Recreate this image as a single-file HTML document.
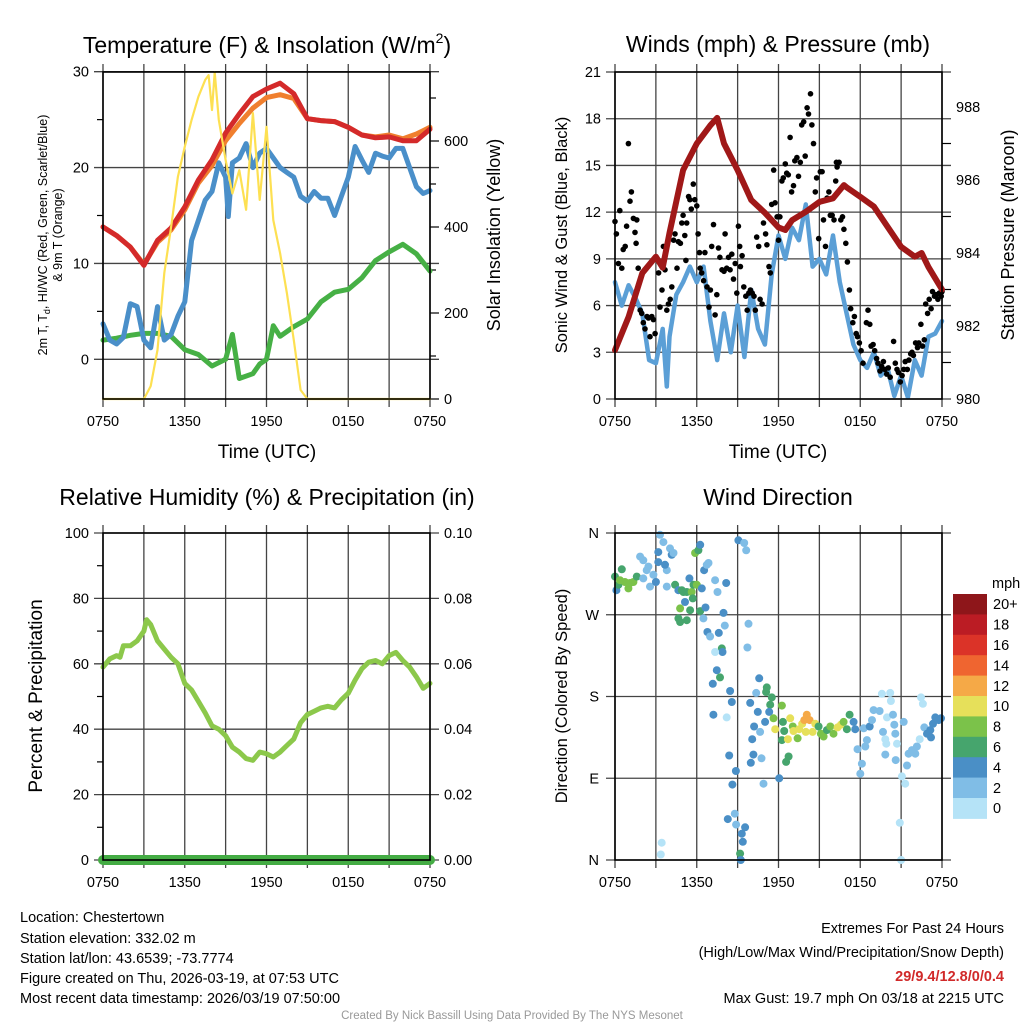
<!DOCTYPE html>
<html><head><meta charset="utf-8"><style>
html,body{margin:0;padding:0;background:#fff;}
svg{display:block;font-family:"Liberation Sans",Arial,sans-serif;}
</style></head><body>
<svg id="fig" width="1024" height="1024" viewBox="0 0 1024 1024" xmlns="http://www.w3.org/2000/svg">
<rect width="1024" height="1024" fill="#fff"/>
<g id="p1"></g>
<g id="p2"></g>
<g id="p3"></g>
<g id="p4"></g>
<g font-size="23" text-anchor="middle" fill="#000">
<text x="267" y="53">Temperature (F) &amp; Insolation (W/m<tspan font-size="14" dy="-10">2</tspan><tspan dy="10">)</tspan></text>
<text x="778" y="52">Winds (mph) &amp; Pressure (mb)</text>
<text x="267" y="505">Relative Humidity (%) &amp; Precipitation (in)</text>
<text x="778" y="505">Wind Direction</text>
</g>
<g fill="#000" text-anchor="middle">
<text x="267" y="458" font-size="19">Time (UTC)</text>
<text x="778" y="458" font-size="19">Time (UTC)</text>
<text font-size="12.5" transform="translate(47,235) rotate(-90)">2m T, T<tspan font-size="9" dy="3">d</tspan><tspan dy="-3">, HI/WC (Red, Green, Scarlet/Blue)</tspan></text>
<text font-size="12.5" transform="translate(62,235) rotate(-90)">&amp; 9m T (Orange)</text>
<text font-size="18" transform="translate(500,235) rotate(-90)">Solar Insolation (Yellow)</text>
<text font-size="16.5" transform="translate(567,235) rotate(-90)">Sonic Wind &amp; Gust (Blue, Black)</text>
<text font-size="18" transform="translate(1014,235) rotate(-90)">Station Pressure (Maroon)</text>
<text font-size="19" transform="translate(42,696) rotate(-90)">Percent &amp; Precipitation</text>
<text font-size="16.5" transform="translate(567,696) rotate(-90)">Direction (Colored By Speed)</text>
</g>
<g id="cbar"></g>
<g font-size="14.5" fill="#000">
<text x="20" y="922">Location: Chestertown</text>
<text x="20" y="943">Station elevation: 332.02 m</text>
<text x="20" y="963">Station lat/lon: 43.6539; -73.7774</text>
<text x="20" y="983">Figure created on Thu, 2026-03-19, at 07:53 UTC</text>
<text x="20" y="1003">Most recent data timestamp: 2026/03/19 07:50:00</text>
</g>
<g font-size="14.5" fill="#000" text-anchor="end">
<text x="1004" y="933">Extremes For Past 24 Hours</text>
<text x="1004" y="957">(High/Low/Max Wind/Precipitation/Snow Depth)</text>
<text x="1004" y="981" fill="#d12a2a" font-weight="bold">29/9.4/12.8/0/0.4</text>
<text x="1004" y="1003">Max Gust: 19.7 mph On 03/18 at 2215 UTC</text>
</g>
<text x="512" y="1019" font-size="11.5" fill="#999" text-anchor="middle">Created By Nick Bassill Using Data Provided By The NYS Mesonet</text>
</svg>
<script>
// ---------- DATA ----------
const timeTickLabels = ["0750","1350","1950","0150","0750"];
const tempTicks = [0,10,20,30];
const solarTicks = [0,200,400,600];
const windTicks = [0,3,6,9,12,15,18,21];
const pressTicks = [980,982,984,986,988];
const rhTicks = [0,20,40,60,80,100];
const precipTickLabels = ["0.00","0.02","0.04","0.06","0.08","0.10"];
const dirTickLabels = ["N","E","S","W","N"];
const speedLabels = ["20+","18","16","14","12","10","8","6","4","2","0"];
const speedColors = ["#8e161a","#bb1c24","#db3328","#ef6530","#f5a947","#e6e05a","#7bc24a","#46a56d","#4a8fc6","#80bde6","#b5e3f7"];

const tempHours = [0,1,2,3,4,5,6,7,8,9,10,11,12,13,14,15,16,17,18,19,20,21,22,23,24];
const tempRed = [13.8,12.9,11.7,9.8,12.4,13.7,15.9,18.7,20.8,23.6,25.6,27.4,28.2,28.8,27.7,25.1,24.9,24.8,24.2,23.4,23.1,23.2,22.8,22.8,24.0];
const tempOrange = [13.8,12.9,11.7,9.9,12.2,13.5,15.6,18.4,20.2,22.8,24.6,26.2,27.3,27.6,27.2,25.1,24.9,24.8,24.2,23.4,23.2,23.4,23.0,23.5,24.2];
const dewHours = [0,1,2,3,4,5,6,7,8,9,9.5,10,11,11.5,12,12.5,13,14,15,16,17,18,19,20,21,22,23,24];
const dewGreen = [2.0,2.2,2.5,2.7,2.7,2.4,1.0,0.5,-0.7,0,2.6,-2.0,-1.5,-0.5,0,3.5,2.4,3.4,4.2,6.0,7.0,7.3,8.5,10.3,11.2,12.0,11.0,9.2];
const wcHours = [0,0.5,1,1.5,2,2.5,3,3.5,4,4.5,5,5.5,6,6.5,7,7.5,8,8.5,9,9.2,9.5,10,10.5,11,11.5,12,12.5,13,13.5,14,14.5,15,15.5,16,16.5,17,17.5,18,18.5,19,19.5,20,20.5,21,21.5,22,22.5,23,23.5,24];
const wcBlue = [3.7,2.0,1.6,2.3,5.8,5.5,2.0,1.2,5.5,2.0,2.6,4.5,6.0,12.4,14.5,16.6,17.5,20.5,19.0,14.9,20.5,21.0,22.5,20.0,21.5,22.0,21.0,20.0,19.5,19.0,17.0,16.5,17.5,16.8,16.8,15.0,17.0,19.0,22.2,20.8,19.5,21.5,21.2,21.0,22.0,22.0,20.0,18.0,17.3,17.6];
const solarHours = [0,3,3.5,4,4.5,5,5.5,6,6.5,7,7.5,7.75,8,8.2,8.5,9,9.5,10,10.5,11,11.5,12,12.5,13,13.5,14,14.5,15,24];
const solarVals = [0,0,30,114,293,400,517,587,649,703,742,753,672,760,649,556,478,532,440,665,463,633,416,339,246,137,21,0,0];

const pressHours = [0,1,2,3,3.5,4,5,6,7,7.5,8,9,10,11,12,12.5,13,14,15,16,16.8,17,18,19,20,21,22,22.5,23,24];
const pressVals = [981.34,982.25,983.45,983.9,983.6,984.55,986.27,987.0,987.5,987.7,987.0,986.27,985.45,985.1,984.7,984.63,984.9,985.13,985.4,985.5,985.86,985.8,985.54,985.27,984.72,984.17,983.9,984.0,983.62,983.0];
const windHours = [0,0.5,1,1.5,2,2.5,3,3.5,3.8,4,4.5,5,5.5,6,6.5,7,7.5,8,8.5,9,9.5,10,10.5,11,11.5,12,12.5,13,13.5,14,14.5,15,15.5,16,16.5,17,17.5,18,18.5,19,19.5,20,20.5,21,21.5,22,22.5,23,23.5,24];
const windVals = [7.5,6.0,7.3,6.5,5.5,2.5,2.3,4.5,0.8,4.0,6.7,7.5,8.5,7.5,8.5,5.0,2.5,5.5,3.0,6.0,2.7,7.0,4.5,3.5,8.0,10.5,9.0,11.0,10.2,12.5,8.5,9.0,8.0,10.5,7.5,5.5,3.5,2.5,2.0,3.0,1.5,2.0,0.2,1.5,0.1,2.5,1.5,4.0,4.2,5.0];
const gustHours = [0,0.1,0.35,0.25,0.5,0.6,0.75,0.85,0.98,1.1,1.2,1.35,1.47,1.6,1.55,1.7,1.85,1.96,2.08,2.2,2.35,2.45,2.57,2.7,2.82,2.94,3.2,3.3,3.45,3.55,3.67,3.8,3.92,4.05,4.17,4.3,4.4,4.55,4.65,4.8,4.9,5.0,5.12,5.2,5.26,5.4,5.5,5.6,5.75,5.86,6.0,6.1,6.2,6.25,6.36,6.5,6.6,6.75,6.9,7.0,7.1,7.23,7.35,7.47,7.6,7.7,7.85,8.0,8.08,8.2,8.33,8.45,8.57,8.7,8.82,8.94,9.06,9.15,9.2,9.33,9.45,9.6,9.7,9.82,9.94,10.07,10.2,10.3,10.4,10.55,10.65,10.8,10.9,11.05,11.15,11.3,11.4,11.5,11.65,11.75,11.9,12.0,12.1,12.25,12.35,12.5,12.6,12.72,12.85,12.96,13.1,13.2,13.35,13.47,13.6,13.7,13.85,13.96,14.1,14.2,14.35,14.45,14.57,14.7,14.8,14.95,15.07,15.2,15.3,15.45,15.57,15.7,15.8,15.94,16.07,16.2,16.25,16.3,16.45,16.57,16.7,16.8,16.94,17.06,17.2,17.3,17.45,17.57,17.7,17.8,17.94,18.06,18.2,18.45,18.57,18.7,18.8,18.94,19.06,19.2,19.3,19.45,19.57,19.7,19.8,19.94,20.06,20.2,20.45,20.57,20.7,20.8,20.94,21.07,21.2,21.3,21.45,21.57,21.7,21.8,21.9,22.06,22.2,22.3,22.45,22.57,22.7,22.8,22.94,23.06,23.2,23.3,23.45,23.57,23.7,23.8,23.94,24.0];
const gustVals = [11.4,10.6,12.1,8.7,8.4,9.6,9.8,11.1,16.4,12.7,13.3,11.6,10.7,11.5,10.0,8.4,5.7,5.5,4.9,4.5,5.3,5.2,4.0,5.3,5.1,4.2,8.1,5.9,7.0,9.8,8.3,5.7,6.1,6.4,7.2,10.2,10.6,8.4,10.1,10.0,11.3,11.8,10.5,8.9,11.3,13.0,12.8,12.2,13.8,12.8,12.4,10.6,9.4,8.4,8.1,7.6,9.4,7.2,5.9,7.0,9.8,11.2,5.4,6.7,9.7,9.1,8.3,8.2,10.6,8.4,9.1,8.3,9.3,7.7,8.7,6.8,11.1,9.8,8.5,9.2,7.2,6.6,5.7,6.8,7.0,6.8,6.6,5.7,10.4,9.8,6.4,6.1,11.3,10.6,9.9,8.5,8.1,12.5,14.7,12.6,11.7,10.2,11.7,14.0,14.2,15.1,14.5,14.4,16.8,13.3,13.7,15.3,15.5,14.3,15.2,17.6,17.8,15.6,18.7,18.3,19.6,17.6,16.4,13.3,14.2,10.3,14.6,14.6,11.5,9.8,12.9,13.3,11.8,11.8,11.5,14.0,15.2,14.9,15.2,11.5,11.7,10.9,10.0,8.8,7.0,5.8,4.9,5.3,4.2,4.0,3.6,3.1,2.3,4.9,5.7,4.8,3.4,3.5,3.1,2.6,2.3,1.8,2.1,2.4,1.9,1.6,2.0,1.4,3.7,2.3,1.9,1.7,1.1,1.5,1.9,2.4,1.9,2.5,2.9,3.0,2.8,3.6,3.3,3.6,4.8,3.4,3.8,6.1,5.5,6.4,5.8,6.9,6.6,6.7,6.4,6.8,6.6,6.9];

const rhHours = [0,0.5,1,1.25,1.5,2,2.5,3,3.2,3.5,4,4.5,5,5.5,6,6.5,7,7.5,8,8.5,9,9.5,10,10.5,11,11.5,12,12.5,13,13.5,14,14.5,15,15.5,16,16.5,17,17.5,18,18.5,19,19.5,20,20.5,21,21.5,22,22.5,23,23.5,24];
const rhVals = [59,61.5,62.5,62,65.5,65.5,67,70,73.5,72,67,64.5,62,60,54,52,48.5,45,41,40,38,34.5,33,31,30.5,33,32.5,31.5,33,35,37,42,44.5,45.5,46.5,47,46.5,49,51,55,58.5,60.5,61,60,62.5,63.5,61,59,56,52.5,54];
const precipHours = [0,24];
const precipVals = [0,0];

const dirHours = [0,0.1,0.25,0.5,0.37,0.73,0.98,1.1,1.35,1.6,1.84,2.08,2.33,2.45,2.08,2.57,2.82,3.0,3.18,3.18,3.3,3.55,3.8,3.67,3.8,4.04,4.16,4.29,4.41,4.65,4.9,5.02,5.27,5.46,5.63,5.76,6.0,5.88,6.12,6.25,6.37,6.54,6.74,6.86,4.78,4.65,4.78,5.27,5.51,5.14,5.71,6.25,6.49,6.64,6.78,6.98,7.35,7.52,8.16,7.96,7.62,8.06,7.84,7.89,7.35,7.47,7.71,7.18,8.45,8.57,7.22,8.2,8.38,8.87,8.62,8.28,8.79,8.89,9.31,9.55,9.38,9.18,9.23,9.06,9.48,9.63,9.8,9.72,3.43,3.36,10.58,10.36,9.92,10.48,11.14,11.09,11.51,11.39,11.32,11.63,11.02,10.65,10.21,10.07,10.16,9.97,10.75,10.9,12.05,12.25,12.32,11.76,12.42,12.25,12.69,12.74,12.56,12.86,13.05,13.1,13.4,13.52,13.74,13.89,14.08,14.28,14.0,14.5,14.7,14.94,15.11,15.31,15.55,15.8,16.04,16.34,16.58,16.78,17.02,17.22,17.51,17.63,17.8,18.0,18.12,18.25,18.37,18.49,18.69,18.86,18.98,19.42,19.59,20.2,20.25,19.96,20.4,20.5,19.67,19.84,19.91,20.57,20.7,19.84,20.6,21.19,20.9,21.0,21.06,21.3,21.43,21.55,21.8,22.04,22.16,22.36,22.46,22.6,22.7,22.9,23.14,23.34,23.51,23.76,23.93,23.19];
const dirDegrees = [312,297,303,320,308,306,299,305,306,312,334,330,319,323,310,301,314,306,328,339,358,350,319,325,301,343,336,338,303,297,297,295,295,310,295,303,303,338,341,347,299,319,325,327,277,266,262,264,275,284,288,274,266,278,251,246,308,295,305,272,250,258,233,229,229,209,201,194,186,174,160,157,115,98,83,45,51,39,29,36,20,7,0,352,349,341,260,234,19,6,200,184,173,163,190,185,179,171,163,156,152,141,147,133,116,107,112,84,90,170,152,144,142,132,133,114,108,156,147,142,134,144,150,154,160,154,141,141,150,147,139,136,143,147,139,146,149,152,144,160,152,144,122,95,106,145,125,132,147,154,165,164,183,184,175,157,160,149,141,133,128,139,128,116,110,152,41,0,92,84,104,117,121,117,125,133,179,172,146,139,143,150,157,154,156,135];
const dirSpeeds = [7,5,7,7,9,9,9,9,9,7,3,3,3,3,3,3,3,5,5,5,3,3,3,5,3,3,5,3,7,5,7,7,7,5,9,7,9,9,7,5,5,5,3,3,9,7,7,7,7,5,7,7,3,5,5,3,3,3,5,5,5,3,7,5,1,5,7,5,5,5,5,1,5,5,5,5,3,3,5,5,5,7,5,5,3,3,3,3,1,1,5,3,5,5,7,7,7,7,5,9,5,3,5,5,5,5,3,3,5,9,7,11,7,7,11,7,7,11,9,11,9,11,11,13,13,13,11,11,11,7,9,9,7,9,9,11,11,9,7,7,5,5,3,3,3,3,3,3,5,3,3,3,1,1,1,1,3,3,3,1,1,3,1,3,3,3,1,1,1,1,3,3,3,3,3,1,1,1,3,5,5,5,5,5,5,5];

// ---------- HELPERS ----------
const NS = "http://www.w3.org/2000/svg";
function mk(parent, tag, attrs){ const e = document.createElementNS(NS, tag); for (const k in attrs) e.setAttribute(k, attrs[k]); parent.appendChild(e); return e; }
function linScale(d0,d1,r0,r1){ return v => r0 + (v-d0)/(d1-d0)*(r1-r0); }

function frame(g, L, T, R, B, xs){
  // vertical grid every 3 hours
  for (let h=0; h<=24; h+=3){
    const ln = mk(g,'line',{x1:xs(h),x2:xs(h),y1:T-8,y2:B+8,stroke:'#444','stroke-width':1.3});
    
    
  }
  timeTickLabels.forEach((lab,i)=>{
    const t = mk(g,'text',{x:xs(i*6),y:B+27,'font-size':14.5,'text-anchor':'middle'});
    t.textContent = lab;
    
    
  });
}
function hgrid(g, L, R, y, ext){
  const ln = mk(g,'line',{x1:L-(ext||9),x2:R+(ext||9),y1:y,y2:y,stroke:'#444','stroke-width':1.3});
  
  
}
function border(g,L,T,R,B){
  const r = mk(g,'rect',{x:L,y:T,width:R-L,height:B-T,fill:'none',stroke:'#000','stroke-width':1.6});
  
  
}
function poly(g, xsArr, ysArr, xs, ys, color, w, name){
  const d = xsArr.map((h,i)=>(i?'L':'M')+xs(h).toFixed(1)+','+ys(ysArr[i]).toFixed(1)).join('');
  const p = mk(g,'path',{d:d,fill:'none',stroke:color,'stroke-width':w,'stroke-linejoin':'round','stroke-linecap':'round'});
  
  
}
function ylab(g,x,y,txt,anchor){
  const t = mk(g,'text',{x:x,y:y+5,'font-size':14.5,'text-anchor':anchor});
  t.textContent = txt;
  
  
}
function tick(g,x1,x2,y){
  const l = mk(g,'line',{x1:x1,x2:x2,y1:y,y2:y,stroke:'#000','stroke-width':1.2});
  
  
}

// ---------- PANEL 1 ----------
(function(){
  const g = document.getElementById('p1');
  const L=103,R=430,T=72,B=399;
  const xs = linScale(0,24,L,R);
  const ys = linScale(0,30,359.3,71.7);
  const ysSolar = linScale(0,600,399,141);
  frame(g,L,T,R,B,xs);
  tempTicks.forEach(v=>{ hgrid(g,L,R,ys(v)); ylab(g,L-14,ys(v),String(v),'end'); });
  [5,15,25].forEach(v=>tick(g,L-6,L,ys(v)));
  solarTicks.forEach(v=>{ tick(g,R,R+9,ysSolar(v)); ylab(g,R+14,ysSolar(v),String(v),'start'); });
  [100,300,500,700].forEach(v=>tick(g,R,R+6,ysSolar(v)));
  poly(g,dewHours,dewGreen,xs,ys,'#46b045',5,'dewpoint-line');
  poly(g,wcHours,wcBlue,xs,ys,'#4a8fc9',5,'windchill-line');
  poly(g,tempHours,tempOrange,xs,ys,'#f07f2e',5,'temp-9m-line');
  poly(g,tempHours,tempRed,xs,ys,'#d42a2a',5,'temp-2m-line');
  poly(g,solarHours,solarVals,xs,ysSolar,'#fde052',2.2,'solar-line');
  border(g,L,T,R,B);
})();

// ---------- PANEL 2 ----------
(function(){
  const g = document.getElementById('p2');
  const L=615,R=942,T=72,B=399;
  const xs = linScale(0,24,L,R);
  const ys = linScale(0,21,B,T);
  const yp = linScale(980,988,399,107);
  frame(g,L,T,R,B,xs);
  windTicks.forEach(v=>{ hgrid(g,L,R,ys(v)); ylab(g,L-14,ys(v),String(v),'end'); });
  pressTicks.forEach(v=>{ ylab(g,R+14,yp(v),String(v),'start'); });
  [981,983,985,987].forEach(v=>tick(g,R,R+9,yp(v)));
  poly(g,windHours,windVals,xs,ys,'#5b9fd6',4.5,'sonic-wind-line');
  gustHours.forEach((h,i)=>{
    const c = mk(g,'circle',{cx:xs(h).toFixed(1),cy:ys(gustVals[i]).toFixed(1),r:2.8,fill:'#000'});
    
    
  });
  poly(g,pressHours,pressVals,xs,yp,'#a01818',6,'pressure-line');
  border(g,L,T,R,B);
})();

// ---------- PANEL 3 ----------
(function(){
  const g = document.getElementById('p3');
  const L=103,R=430,T=533,B=860;
  const xs = linScale(0,24,L,R);
  const ys = linScale(0,100,B,T);
  frame(g,L,T,R,B,xs);
  rhTicks.forEach((v,i)=>{ hgrid(g,L,R,ys(v)); ylab(g,L-14,ys(v),String(v),'end'); ylab(g,R+14,ys(v),precipTickLabels[i],'start'); });
  [10,30,50,70,90].forEach(v=>tick(g,L-6,L,ys(v)));
  poly(g,rhHours,rhVals,xs,ys,'#8cc84b',5,'humidity-line');
  poly(g,precipHours,precipVals.map(v=>v*1000),xs,ys,'#44ac44',10,'precipitation-line');
  border(g,L,T,R,B);
})();

// ---------- PANEL 4 ----------
(function(){
  const g = document.getElementById('p4');
  const L=615,R=942,T=533,B=860;
  const xs = linScale(0,24,L,R);
  const ys = linScale(0,360,B,T);
  frame(g,L,T,R,B,xs);
  dirTickLabels.forEach((lab,i)=>{ hgrid(g,L,R,ys(i*90)); ylab(g,L-16,ys(i*90),lab,'end'); });
  function colorFor(s){ const idx = Math.min(10, Math.floor(s/2)); return speedColors[10-idx]; }
  dirHours.forEach((h,i)=>{
    const c = mk(g,'circle',{cx:xs(h).toFixed(1),cy:ys(dirDegrees[i]).toFixed(1),r:4,fill:colorFor(dirSpeeds[i])});
    
    
  });
  border(g,L,T,R,B);
})();

// ---------- COLORBAR ----------
(function(){
  const g = document.getElementById('cbar');
  const x0=953, y0=594, bw=34, bh=20.4;
  const t0 = mk(g,'text',{x:992,y:588,'font-size':14.5});
  t0.textContent='mph';
  
  
  speedColors.forEach((c,i)=>{
    const r = mk(g,'rect',{x:x0,y:y0+i*bh,width:bw,height:bh+0.5,fill:c});
    
    
    const t = mk(g,'text',{x:993,y:y0+i*bh+bh/2+5,'font-size':14.5});
    t.textContent = speedLabels[i];
    
    
  });
})();
</script>
</body></html>
